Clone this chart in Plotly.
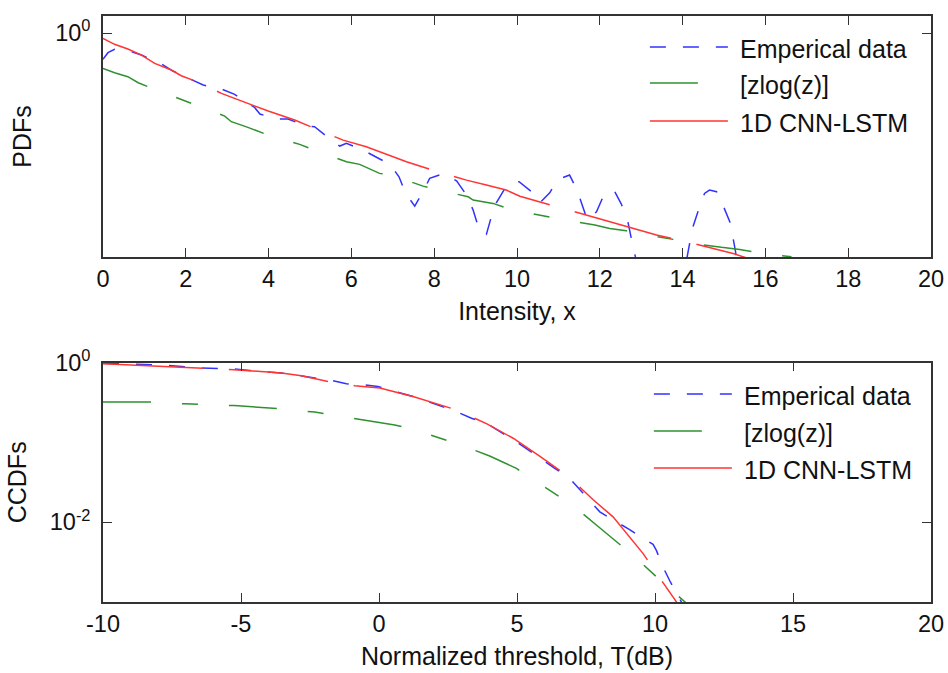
import plotly.graph_objects as go

# ---------------- PDF panel (intensity) ----------------
pdf_emp_x = [0, 0.12, 0.28, 0.69, 0.93, 1.41, 1.69, 2.14, 2.42, 2.86, 3.18, 3.50, 3.66, 3.79,
             4.19, 4.47, 4.91, 5.11, 5.23, 5.60, 5.72, 5.88, 6.28, 6.56, 6.93, 7.15, 7.31,
             7.53, 7.73, 7.89, 8.23, 8.54, 8.78, 8.94, 9.06, 9.14, 9.26, 9.38, 9.50, 9.74,
             9.90, 10.05, 10.35, 10.55, 10.79, 10.99, 11.27, 11.45, 11.58, 11.70, 11.92,
             12.08, 12.34, 12.52, 12.67, 12.74, 12.82, 12.88, 13.5,
             14.08, 14.11, 14.17, 14.25, 14.37, 14.53, 14.65, 14.82, 14.99, 15.14, 15.22,
             15.28, 15.31, 15.6]
pdf_emp_y = [0.143, 0.233, 0.299, 0.251, 0.196, 0.101, 0.060, 0.0308, 0.0213, 0.0158, 0.0107,
             0.0055, 0.00408, 0.00248, 0.00172, 0.00172, 1.02e-3, 9.7e-4, 7.2e-4, 2.97e-4,
             2.33e-4, 2.84e-4, 1.73e-4, 1.11e-4, 6.0e-5, 2.39e-5, 7.0e-6, 2.73e-6, 7.9e-6,
             2.13e-5, 3.08e-5, 1.78e-5, 6.2e-6, 2.04e-6, 6.2e-7, 3.62e-7, 3.37e-7, 1.24e-6,
             3.49e-6, 1.20e-5, 1.68e-5, 1.66e-5, 7.9e-6, 3.49e-6, 7.3e-6, 1.98e-5, 2.72e-5,
             8.95e-6, 2.6e-6, 9.7e-7, 1.79e-6, 5.45e-6, 8.95e-6, 3.18e-6, 9.7e-7, 3.2e-7,
             1.05e-7, 5.0e-8, 0,
             3.0e-8, 6.4e-8, 1.73e-7, 5.9e-7, 1.79e-6, 7.0e-6, 8.95e-6, 7.9e-6, 2.6e-6,
             8.55e-7, 2.5e-7, 9.3e-8, 3.0e-8, 0]

pdf_zlog_x = [0, 0.28, 0.60, 0.85, 1.09, 1.81, 2.20, 2.94, 3.10, 3.50, 3.99, 4.75, 5.11, 5.88,
              6.20, 6.68, 6.97, 7.73, 8.05, 8.82, 8.94, 9.42, 9.90, 10.71, 11.10, 11.88,
              12.24, 12.64, 13.00, 13.77, 14.13, 14.94, 15.38, 15.85, 16.63]
pdf_zlog_y = [0.0733, 0.0528, 0.0394, 0.0252, 0.0187, 0.00794, 0.00509, 0.00214, 0.00141,
              9.29e-4, 5.25e-4, 2.64e-4, 1.73e-4, 7.28e-5, 6.0e-5, 3.08e-5, 2.72e-5, 1.20e-5,
              9.4e-6, 5.45e-6, 4.27e-6, 3.34e-6, 2.04e-6, 1.24e-6, 1.02e-6, 6.70e-7, 5.25e-7,
              4.40e-7, 3.44e-7, 2.33e-7, 1.81e-7, 1.29e-7, 1.11e-7, 8.6e-8, 6.4e-8]

pdf_cnn_x = [0, 0.28, 0.60, 0.93, 1.25, 1.65, 1.89, 2.21, 2.86, 3.50, 3.99, 4.63, 5.03, 5.80,
             6.36, 6.76, 7.33, 7.97, 8.78, 9.26, 9.74, 10.07, 10.55, 10.99, 11.76, 12.24,
             12.80, 13.37, 14.01, 14.73, 15.22, 15.58]
pdf_cnn_y = [0.676, 0.433, 0.306, 0.196, 0.106, 0.0646, 0.0424, 0.0292, 0.0115, 0.0055,
             0.0031, 0.0016, 9.7e-4, 3.6e-4, 2.2e-4, 1.42e-4, 7.3e-5, 3.9e-5, 1.87e-5,
             1.30e-5, 8.95e-6, 5.7e-6, 3.77e-6, 2.6e-6, 1.3e-6, 8.6e-7, 5.2e-7, 3.2e-7,
             2.1e-7, 1.19e-7, 8.2e-8, 5.7e-8]

# ---------------- CCDF panel (threshold in dB) ----------------
ccdf_emp_x = [-10, -8.85, -7.62, -6.46, -5.25, -4.68, -3.54, -1.72, -1.18, -0.58, -0.04,
              1.23, 2.80, 3.35, 3.89, 4.98, 5.40, 5.94, 6.37, 6.91, 7.28, 7.70, 8.00, 8.60,
              9.08, 9.63, 9.93, 10.05, 10.29, 10.53, 10.78, 10.96]
ccdf_emp_y = [0.986, 0.952, 0.925, 0.857, 0.834, 0.800, 0.742, 0.599, 0.544, 0.529, 0.503,
              0.377, 0.244, 0.201, 0.174, 0.102, 0.0805, 0.0603, 0.0473, 0.0355, 0.0253,
              0.0175, 0.0135, 0.0101, 0.00809, 0.00606, 0.00528, 0.00444, 0.00274, 0.00186,
              0.00127, 9.94e-4]

ccdf_zlog_x = [-10, -8.25, -7.04, -5.25, -3.50, -2.33, -1.75, -0.58, 0.57, 1.17, 2.32, 2.86,
               4.01, 4.98, 5.52, 6.55, 7.01, 7.93, 9.30, 10.17, 10.62, 11.11]
ccdf_zlog_y = [0.321, 0.321, 0.305, 0.290, 0.264, 0.240, 0.222, 0.192, 0.166, 0.148, 0.111,
               0.0957, 0.0676, 0.0473, 0.0355, 0.0208, 0.0164, 0.00891, 0.0036, 0.0019,
               0.0014, 9.86e-4]

ccdf_cnn_x = [-10, -8.25, -7.04, -5.89, -5.25, -3.54, -2.81, -1.85, -0.88, 0.03, 1.23, 2.80,
              3.91, 4.86, 5.82, 6.88, 7.75, 8.48, 8.96, 9.57, 10.05, 10.81]
ccdf_cnn_y = [0.971, 0.917, 0.883, 0.841, 0.817, 0.742, 0.686, 0.582, 0.514, 0.481, 0.377,
              0.256, 0.171, 0.113, 0.0676, 0.0371, 0.0193, 0.01167, 0.00721, 0.00404,
              0.0023, 9.66e-4]

# ---------------- labels ----------------
series_names = ["Emperical data", "[zlog(z)]", "1D CNN-LSTM"]
pdf_xticks = list(range(0, 21, 2))
ccdf_xticks = list(range(-10, 21, 5))
ccdf_xticktext = ["-10", "-5", "0", "5", "10", "15", "20"]
pdf_yticks = [1]
pdf_yticktext = ["10<sup>0</sup>"]
ccdf_yticks = [1, 0.01]
ccdf_yticktext = ["10<sup>0</sup>", "10<sup>-2</sup>"]

# ---------------- styles ----------------
FONT = "Liberation Sans, Arial, Helvetica, sans-serif"
colors = ["#3232ff", "#2f912f", "#ff3434"]
dashes = ["16px,17px", "48px,31px,16px,31px", "100px,26px"]
LW = 1.5

fig = go.Figure()

panels = [
    ("x", "y", [(pdf_emp_x, pdf_emp_y), (pdf_zlog_x, pdf_zlog_y), (pdf_cnn_x, pdf_cnn_y)]),
    ("x2", "y2", [(ccdf_emp_x, ccdf_emp_y), (ccdf_zlog_x, ccdf_zlog_y), (ccdf_cnn_x, ccdf_cnn_y)]),
]
for xa, ya, series in panels:
    for (sx, sy), name, col, dash in zip(series, series_names, colors, dashes):
        fig.add_trace(go.Scatter(
            x=sx, y=sy, name=name, mode="lines",
            line=dict(color=col, width=LW, dash=dash),
            connectgaps=False, showlegend=False, xaxis=xa, yaxis=ya,
        ))

axis_common = dict(
    showline=True, mirror="ticks", linecolor="#333333", linewidth=1.6,
    ticks="inside", ticklen=9, tickwidth=1.4, tickcolor="#333333",
    showgrid=False, zeroline=False, automargin=False,
    tickfont=dict(family=FONT, size=23.5, color="#111111"),
)
yaxis_extra = dict(ticklabelstandoff=6)

fig.update_layout(
    width=948, height=673,
    margin=dict(l=103, r=17, t=16, b=71),
    paper_bgcolor="white", plot_bgcolor="white",
    font=dict(family=FONT, color="#111111"),
    xaxis=dict(axis_common, domain=[0, 1], anchor="y", range=[0, 20],
               tickvals=pdf_xticks,
               title=dict(text="Intensity, x", font=dict(size=25), standoff=11)),
    yaxis=dict(axis_common, **yaxis_extra, domain=[0.5887, 1], anchor="x", type="log",
               range=[-7.2, 0.547], tickvals=pdf_yticks, ticktext=pdf_yticktext,
               title=dict(text="PDFs", font=dict(size=25), standoff=16)),
    xaxis2=dict(axis_common, domain=[0, 1], anchor="y2", range=[-10, 20],
                tickvals=ccdf_xticks, ticktext=ccdf_xticktext,
                title=dict(text="Normalized threshold, T(dB)", font=dict(size=25), standoff=11)),
    yaxis2=dict(axis_common, **yaxis_extra, domain=[0, 0.4084], anchor="x2", type="log",
                range=[-3, 0], tickvals=ccdf_yticks, ticktext=ccdf_yticktext,
                title=dict(text="CCDFs", font=dict(size=25), standoff=16)),
)

# In-axes legends without a box, one per panel
legend_layout = [
    # (xref, yref, sample x0, sample x1, text x, row y positions)
    ("x domain", "y domain", 0.6605, 0.7547, 0.7667, [0.871, 0.722, 0.564]),
    ("x2 domain", "y2 domain", 0.6653, 0.7595, 0.7716, [0.869, 0.7146, 0.560]),
]
for xref, yref, sx0, sx1, tx, rows in legend_layout:
    for name, col, dash, ry in zip(series_names, colors, dashes, rows):
        fig.add_shape(type="line", xref=xref, yref=yref, x0=sx0, x1=sx1, y0=ry, y1=ry,
                      line=dict(color=col, width=LW, dash=dash))
        fig.add_annotation(xref=xref, yref=yref, x=tx, y=ry - 0.008, text=name,
                           showarrow=False, xanchor="left", yanchor="middle",
                           font=dict(family=FONT, size=25, color="#111111"))

fig.write_html("out.html")
